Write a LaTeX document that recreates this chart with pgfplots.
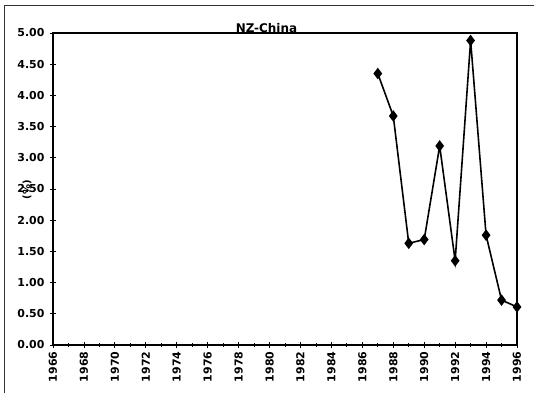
\documentclass[border=0pt]{standalone}
\usepackage{fontspec}
\setmainfont{DejaVu Sans}
\usepackage{pgfplots}
\pgfplotsset{compat=1.18}
\begin{document}
\begin{tikzpicture}[x=1bp,y=1bp]
\path[use as bounding box] (0,0) rectangle (534,393);
\draw[line width=0.8pt, black!80] (4,0) -- (4,388) -- (534,388);
\begin{axis}[
  at={(53bp,48bp)}, anchor=south west,
  scale only axis, width=464bp, height=312bp,
  xmin=1966, xmax=1996, ymin=0, ymax=5,
  xtick={1966,1968,...,1996},
  minor xtick={1967,1969,...,1995},
  ytick={0,0.5,...,5},
  xtick pos=bottom, ytick pos=left,
  axis line style={line width=1.6pt},
  tick style={black, line width=0.8pt},
  major tick length=6bp, minor tick length=4bp,
  tick align=center,
  /pgf/number format/assume math mode=true,
  xticklabel style={rotate=90, anchor=east, font=\fontsize{11}{13}\selectfont\bfseries},
  xticklabel={\pgfmathprintnumber[1000 sep=]{\tick}},
  yticklabel style={font=\fontsize{11}{13}\selectfont\bfseries, xshift=-2bp},
  yticklabel={\pgfmathprintnumber[fixed, fixed zerofill, precision=2]{\tick}},
  title={NZ-China},
  title style={font=\fontsize{12}{14}\selectfont\bfseries, at={(axis description cs:0.46,1)}, anchor=base, yshift=-5bp},
  ylabel={(\%)},
  ylabel style={font=\fontsize{10}{12}\selectfont\bfseries, at={(axis description cs:-0.056,0.497)}, anchor=center, rotate=0},
  clip=false,
]
\addplot[black, line width=1.6pt, mark=diamond*, mark size=4.5bp, mark options={solid, fill=black}]
coordinates {
(1987,4.35) (1988,3.67) (1989,1.63) (1990,1.69) (1991,3.19)
(1992,1.35) (1993,4.88) (1994,1.76) (1995,0.72) (1996,0.61)
};
\end{axis}
\end{tikzpicture}
\end{document}
